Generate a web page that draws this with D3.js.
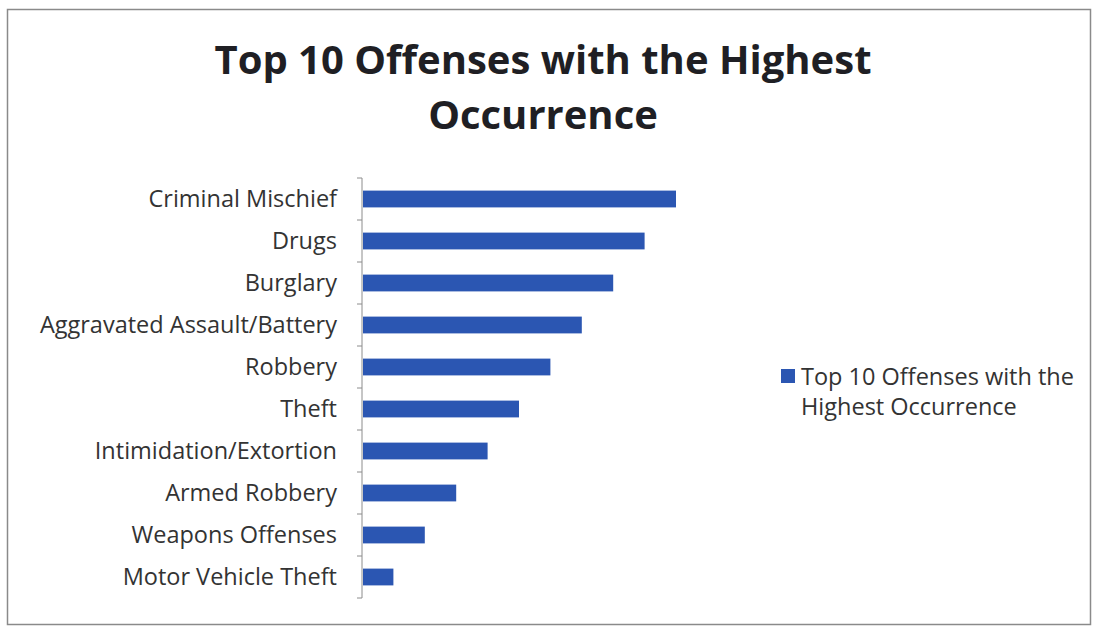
<!DOCTYPE html>
<html>
<head>
<meta charset="utf-8">
<script src="https://cdn.jsdelivr.net/npm/d3@7"></script>
<style>
  body { margin: 0; background: #fff; }
  text { font-family: "Open Sans", Lato, sans-serif; }
</style>
</head>
<body>
<div id="chart"></div>
<script>
// chart data
const offenses = [
    "Criminal Mischief",
    "Drugs",
    "Burglary",
    "Aggravated Assault/Battery",
    "Robbery",
    "Theft",
    "Intimidation/Extortion",
    "Armed Robbery",
    "Weapons Offenses",
    "Motor Vehicle Theft"
]
const counts = [10, 9, 8, 7, 6, 5, 4, 3, 2, 1]
const titleLines = ["Top 10 Offenses with the Highest", "Occurrence"]
const legendLines = ["Top 10 Offenses with the", "Highest Occurrence"]

const width = 1096
const height = 628
const barColor = "#2b56b2"
const textColor = "#333"

const svg = d3.select("#chart")
    .append("svg")
    .attr("viewBox", [0, 0, width, height])
    .attr("width", width)
    .attr("height", height)

//frame round the chart
svg.append("rect")
    .attr("x", 7.5).attr("y", 9.5)
    .attr("width", 1083).attr("height", 615)
    .attr("fill", "none")
    .attr("stroke", "#8a8a8a")
    .attr("stroke-width", 1.5)

//title
svg.append("text")
    .attr("x", 543)
    .attr("y", 74)
    .attr("text-anchor", "middle")
    .attr("font-size", 40)
    .attr("font-weight", "bold")
    .attr("fill", "#1f1f24")
    .selectAll("tspan")
    .data(titleLines)
    .join("tspan")
        .attr("x", 543)
        .attr("dy", (d, i) => i ? 55 : 0)
        .text(d => d)

//scales
const yScale = d3.scaleBand()
    .domain(offenses)
    .range([178, 598])
    .paddingInner(0.6)
    .paddingOuter(0.3)

const xScale = d3.scaleLinear()
    .domain([0, 10])
    .range([362, 676])

//y axis
const yAxis = svg.append("g")
    .attr("transform", `translate(${xScale(0)},0)`)
    .call(d3.axisLeft(yScale).tickSize(0).tickPadding(25))
yAxis.select(".domain")
    .attr("stroke", "#8c8c8c")
    .attr("d", `M0,${yScale.range()[0]}V${yScale.range()[1]}`)
yAxis.selectAll(".tick text")
    .attr("font-size", 23.5)
    .attr("fill", textColor)
    .attr("font-family", "'Open Sans', sans-serif")

//tick marks sit between categories
const step = yScale.step()
const tickYs = d3.range(offenses.length + 1).map(i => yScale.range()[0] + i * step)
yAxis.selectAll(".sep")
    .data(tickYs)
    .join("line")
    .attr("class", "sep")
    .attr("x1", -5).attr("x2", 0)
    .attr("y1", d => d).attr("y2", d => d)
    .attr("stroke", "#8c8c8c")

//bars
svg.append("g")
    .selectAll("rect")
    .data(offenses)
    .join("rect")
    .attr("x", xScale(0) + 1)
    .attr("y", d => yScale(d))
    .attr("width", (d, i) => xScale(counts[i]) - xScale(0) - 1)
    .attr("height", yScale.bandwidth())
    .attr("fill", barColor)

//legend
const legend = svg.append("g")
legend.append("rect")
    .attr("x", 781).attr("y", 369)
    .attr("width", 14).attr("height", 14)
    .attr("fill", barColor)
legend.append("text")
    .attr("y", 385)
    .attr("font-size", 23.5)
    .attr("fill", textColor)
    .selectAll("tspan")
    .data(legendLines)
    .join("tspan")
        .attr("x", 801)
        .attr("dy", (d, i) => i ? 30 : 0)
        .text(d => d)
</script>
</body>
</html>
